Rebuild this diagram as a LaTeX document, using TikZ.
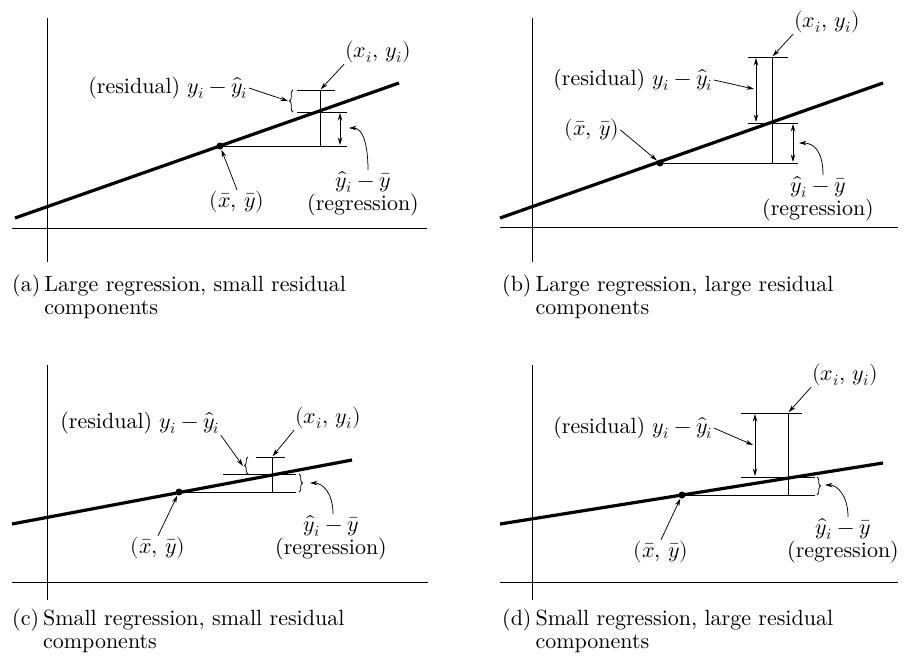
\documentclass[tikz,border=0pt]{standalone}
\usepackage{amsmath}
\usepackage{fontspec}
\usepackage{unicode-math}
\setmainfont{lmroman10-regular.otf}[ItalicFont=lmroman10-italic.otf,BoldFont=lmroman10-bold.otf]
\setmathfont{Latin Modern Math}
\usepackage{tikz}
\usetikzlibrary{arrows.meta,decorations.pathreplacing}

\begin{document}
\begin{tikzpicture}[x=1pt,y=-1pt,
    axisline/.style={line width=0.9pt},
    fitline/.style={line width=3.2pt},
    guide/.style={line width=0.8pt},
    pointer/.style={-{Stealth[length=7.5pt,width=4.5pt]},line width=0.75pt},
    twoway/.style={{Stealth[length=7.5pt,width=4.5pt]}-{Stealth[length=7.5pt,width=4.5pt]},line width=0.9pt},
    curly/.style={decorate,decoration={brace,amplitude=3.5pt},line width=0.75pt},
    lbl/.style={font=\fontsize{22}{21}\selectfont,inner sep=1pt,align=center},
    capt/.style={font=\fontsize{22}{23.5}\selectfont,anchor=base west,inner sep=0pt}]
  \useasboundingbox (0,0) rectangle (905,665);

  % (a) large regression, small residual
  \draw[axisline] (47,18) -- (47,262);
  \draw[axisline] (12,228) -- (427,228);
  \coordinate (ma) at (220,146);
  \coordinate (ta) at (320,90);
  \coordinate (bra) at (288,101);
  \coordinate (cra) at (349,128);
  \draw[guide] (ma) -- (347,146);
  \draw[guide] (ta) -- (320,146);
  \draw[guide] (297,90) -- (335,90);
  \draw[guide] (297,112) -- (347,112);
  \draw[twoway] (340,113) -- (340,145);
  \draw[curly] (293,112) -- (293,90);
  \draw[fitline] (15,218) -- (399,83);
  \fill (ma) circle (3.5);
  \node[lbl] (resa) at (168,88) {(residual) $y_i-\hat{y}_i$};
  \node[lbl] (pta) at (378,52) {$(x_i,\,y_i)$};
  \node[lbl] (mna) at (237,202) {$(\bar{x},\,\bar{y})$};
  \node[lbl,anchor=north] (dya) at (363,170) {$\hat{y}_i-\bar{y}$\\(regression)};
  \draw[pointer] (resa.east) -- (bra);
  \draw[pointer,shorten >=1pt] (pta.south west) -- (ta);
  \draw[pointer,shorten >=4pt] (mna.north) -- (ma);
  \draw[pointer] ([xshift=5pt]dya.north) .. controls +(0,-25) and +(14,0) .. (cra);
  \node[capt] (capa) at (12,291) {\begin{tabular}[t]{@{}l@{\hspace{4pt}}l@{}}(a)&Large regression, small residual\\&components\end{tabular}};

  % (b) large regression, large residual
  \draw[axisline] (532,18) -- (532,262);
  \draw[axisline] (500,227) -- (898,227);
  \coordinate (mb) at (660,163);
  \coordinate (tb) at (772,57);
  \coordinate (crb) at (799,143);
  \draw[guide] (mb) -- (798,163);
  \draw[guide] (tb) -- (772,163);
  \draw[guide] (748,57) -- (788,57);
  \draw[guide] (748,123) -- (798,123);
  \draw[twoway] (756,58) -- (756,122);
  \draw[twoway] (793,124) -- (793,162);
  \draw[fitline] (500,218) -- (883,83);
  \fill (mb) circle (3.5);
  \node[lbl] (resb) at (633,80) {(residual) $y_i-\hat{y}_i$};
  \node[lbl] (ptb) at (827,22) {$(x_i,\,y_i)$};
  \node[lbl] (mnb) at (592,130) {$(\bar{x},\,\bar{y})$};
  \node[lbl,anchor=north] (dyb) at (818,175) {$\hat{y}_i-\bar{y}$\\(regression)};
  \draw[pointer] (resb.east) -- (754,89);
  \draw[pointer,shorten >=1pt] (ptb.south west) -- (tb);
  \draw[pointer,shorten >=4pt] (mnb.east) -- (mb);
  \draw[pointer] ([xshift=5pt]dyb.north) .. controls +(0,-25) and +(14,0) .. (crb);
  \node[capt] (capb) at (502,291) {\begin{tabular}[t]{@{}l@{\hspace{4pt}}l@{}}(b)&Large regression, large residual\\&components\end{tabular}};

  % (c) small regression, small residual
  \draw[axisline] (47,365) -- (47,600);
  \draw[axisline] (12,582) -- (428,582);
  \coordinate (mc) at (179,492);
  \coordinate (tc) at (272,457);
  \coordinate (brc) at (243,466);
  \coordinate (crc) at (310,483);
  \draw[guide] (mc) -- (296,492);
  \draw[guide] (tc) -- (272,492);
  \draw[guide] (256,457) -- (285,457);
  \draw[guide] (223,474) -- (296,474);
  \draw[curly] (248,474) -- (248,457);
  \draw[curly] (299,474) -- (299,492);
  \draw[fitline] (12,524) -- (352,460);
  \fill (mc) circle (3.5);
  \node[lbl] (resc) at (140,423) {(residual) $y_i-\hat{y}_i$};
  \node[lbl] (ptc) at (328,418) {$(x_i,\,y_i)$};
  \node[lbl] (mnc) at (158,548) {$(\bar{x},\,\bar{y})$};
  \node[lbl,anchor=north] (dyc) at (331,514) {$\hat{y}_i-\bar{y}$\\(regression)};
  \draw[pointer] (resc.south east) -- (brc);
  \draw[pointer,shorten >=1pt] (ptc.south west) -- (tc);
  \draw[pointer,shorten >=4pt] (mnc.north) -- (mc);
  \draw[pointer] ([xshift=2pt]dyc.north) .. controls +(0,-22) and +(12,0) .. (crc);
  \node[capt] (capc) at (12,625) {\begin{tabular}[t]{@{}l@{\hspace{4pt}}l@{}}(c)&Small regression, small residual\\&components\end{tabular}};

  % (d) small regression, large residual
  \draw[axisline] (532,365) -- (532,600);
  \draw[axisline] (500,582) -- (898,582);
  \coordinate (md) at (682,495);
  \coordinate (td) at (788,413);
  \coordinate (crd) at (825,485);
  \draw[guide] (md) -- (815,495);
  \draw[guide] (td) -- (788,495);
  \draw[guide] (741,413) -- (802,413);
  \draw[guide] (741,477) -- (815,477);
  \draw[twoway] (755,414) -- (755,476);
  \draw[curly] (817,477) -- (817,495);
  \draw[fitline] (500,524) -- (883,463);
  \fill (md) circle (3.5);
  \node[lbl] (resd) at (633,428) {(residual) $y_i-\hat{y}_i$};
  \node[lbl] (ptd) at (845,375) {$(x_i,\,y_i)$};
  \node[lbl] (mnd) at (661,552) {$(\bar{x},\,\bar{y})$};
  \node[lbl,anchor=north] (dyd) at (843,517) {$\hat{y}_i-\bar{y}$\\(regression)};
  \draw[pointer] (resd.east) -- (753,445);
  \draw[pointer,shorten >=1pt] (ptd.south west) -- (td);
  \draw[pointer,shorten >=4pt] (mnd.north) -- (md);
  \draw[pointer] ([xshift=5pt]dyd.north) .. controls +(0,-22) and +(12,0) .. (crd);
  \node[capt] (capd) at (502,625) {\begin{tabular}[t]{@{}l@{\hspace{4pt}}l@{}}(d)&Small regression, large residual\\&components\end{tabular}};
\end{tikzpicture}
\end{document}
